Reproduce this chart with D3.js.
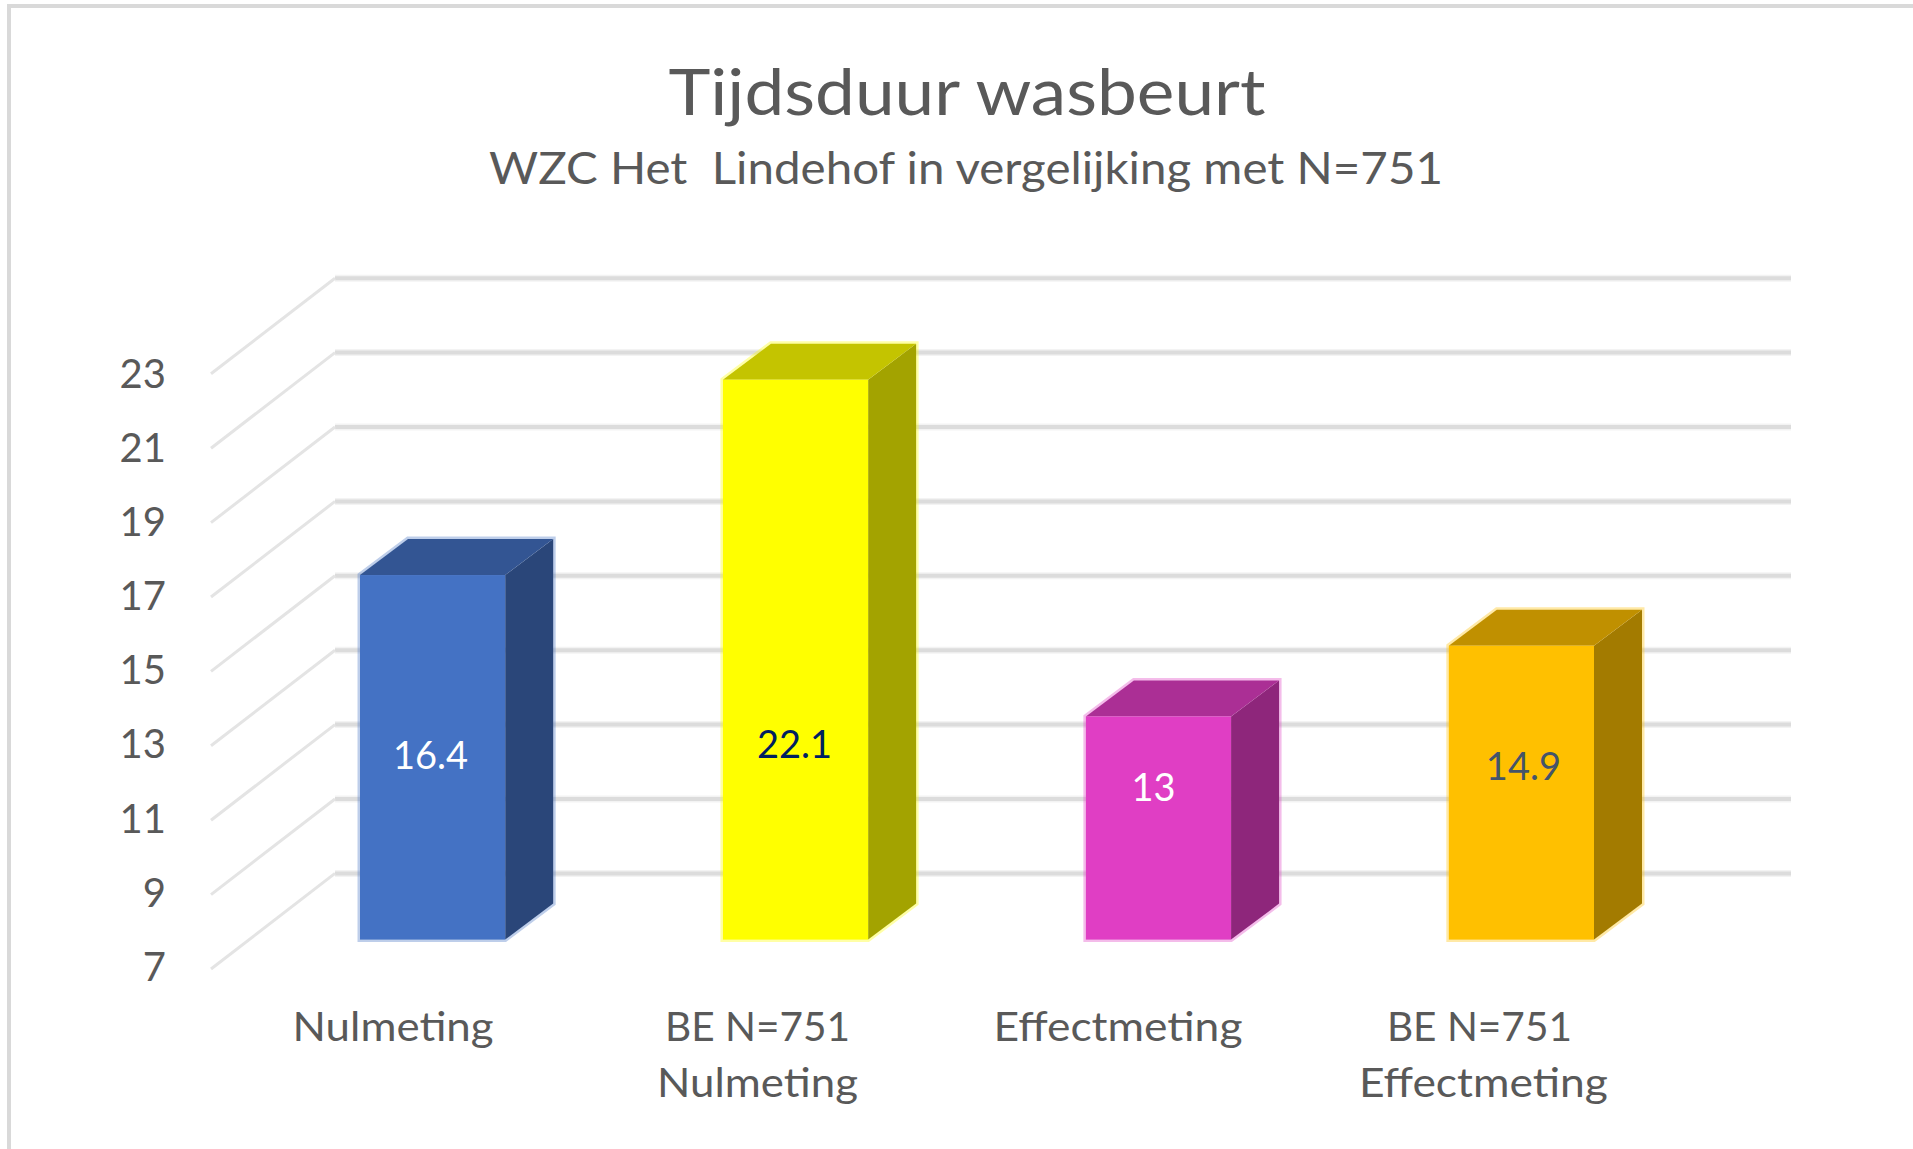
<!DOCTYPE html>
<html><head><meta charset="utf-8">
<script src="https://cdn.jsdelivr.net/npm/d3@7"></script>
<style>html,body{margin:0;padding:0;background:#fff;overflow:hidden}svg{display:block}text{font-family:Lato,"Open Sans",sans-serif}</style>
</head><body><div id="chart"></div>
<script>
const title = "Tijdsduur wasbeurt";
const subtitle = "WZC Het  Lindehof in vergelijking met N=751";
const categories = ["Nulmeting", "BE N=751 Nulmeting", "Effectmeting", "BE N=751 Effectmeting"];
const categoryLines = [["Nulmeting"], ["BE N=751", "Nulmeting"], ["Effectmeting"], ["BE N=751", "Effectmeting"]];
// Bar heights; the printed labels are kept separately (first bar is drawn a little above its label).
const barHeights = [16.8, 22.05, 13, 14.9];
const valueLabels = ["16.4", "22.1", "13", "14.9"];
const labelLevels = [11.95, 12.26, 11.09, 11.65];
const yTicks = [7, 9, 11, 13, 15, 17, 19, 21, 23];
const frontColors = ["#4472c4", "#ffff00", "#e03ec4", "#ffc000"];
const sideColors = ["#2a4679", "#a3a300", "#8e267b", "#a37b00"];
const topColors = ["#335593", "#c4c400", "#ab2f95", "#c09000"];
const labelColors = ["#ffffff", "#002060", "#ffffff", "#44546a"];
const labelNudgeX = [-2, -1, -5, 2];
const lineWidths = { "Nulmeting": 201, "BE N=751": 185, "Effectmeting": 249 };
const lineNudges = [[-1.5], [0, 0], [-2.5], [-4, 0]];

const W = 1913, H = 1149, depthX = 48, depthY = 36, wallX = 124, wallY = 95.6;
const svg = d3.select("#chart").append("svg").attr("width", W).attr("height", H);
svg.append("rect").attr("x", 9).attr("y", 6).attr("width", W + 20).attr("height", H + 20)
  .attr("fill", "#fff").attr("stroke", "#d9d9d9").attr("stroke-width", 4);

const x = d3.scaleBand().domain(categories).range([360, 1594]).paddingInner(0.6).paddingOuter(0);
const yBar = d3.scaleLinear().domain([7, 23]).range([939.6, 344.4]);
const yWall = d3.scaleLinear().domain([7, 23]).range([873.4, 278.2]);
const yTick = d3.scaleLinear().domain([7, 23]).range([967.5, 374.5]);

const grid = svg.append("g");
grid.selectAll("line.halo").data(yTicks).join("line").attr("class", "halo")
  .attr("x1", 335).attr("x2", 1791).attr("y1", yWall).attr("y2", yWall)
  .attr("stroke", "#f3f3f3").attr("stroke-width", 7);
grid.selectAll("line.h").data(yTicks).join("line").attr("class", "h")
  .attr("x1", 335).attr("x2", 1791).attr("y1", yWall).attr("y2", yWall)
  .attr("stroke", "#dcdcdc").attr("stroke-width", 4);
grid.selectAll("line.d").data(yTicks).join("line").attr("class", "d")
  .attr("x1", 335 - wallX).attr("x2", 335).attr("y1", d => yWall(d) + wallY).attr("y2", yWall)
  .attr("stroke", "#e4e4e4").attr("stroke-width", 3);

const axis = d3.axisLeft(yTick).tickValues(yTicks).tickSize(0).tickPadding(0);
const gAxis = svg.append("g").attr("transform", "translate(166,0)").call(axis);
gAxis.select(".domain").remove();
gAxis.selectAll("text").attr("fill", "#595959").style("font-size", "40px").style("font-family", "Lato");

const pts = a => a.map(p => p.join(",")).join(" ");
const bars = svg.selectAll("g.bar").data(categories).join("g").attr("class", "bar");
bars.each(function (c, i) {
  const g = d3.select(this), x0 = x(c), x1 = x0 + x.bandwidth(), t = yBar(barHeights[i]), b = yBar(7);
  g.append("polygon").attr("points", pts([[x0, b], [x0, t], [x0 + depthX, t - depthY], [x1 + depthX, t - depthY], [x1 + depthX, b - depthY], [x1, b]]))
    .attr("fill", "none").attr("stroke", frontColors[i]).attr("stroke-opacity", 0.35).attr("stroke-width", 5);
  g.append("polygon").attr("points", pts([[x1, b], [x1 + depthX, b - depthY], [x1 + depthX, t - depthY], [x1, t]])).attr("fill", sideColors[i]);
  g.append("polygon").attr("points", pts([[x0, t], [x0 + depthX, t - depthY], [x1 + depthX, t - depthY], [x1, t]])).attr("fill", topColors[i]);
  g.append("rect").attr("x", x0).attr("y", t).attr("width", x.bandwidth()).attr("height", b - t).attr("fill", frontColors[i]);
  g.append("text").attr("x", x0 + x.bandwidth() / 2 + labelNudgeX[i]).attr("y", yBar(labelLevels[i]))
    .attr("dy", "0.36em").attr("text-anchor", "middle").attr("fill", labelColors[i]).style("font-size", "38px").text(valueLabels[i]);
});

categories.forEach((c, i) => {
  svg.selectAll("text.cat" + i).data(categoryLines[i]).join("text").attr("class", "cat" + i)
    .attr("text-anchor", "middle").attr("fill", "#595959").style("font-size", "40px")
    .attr("x", (d, j) => x(c) + x.bandwidth() / 2 - 38 + lineNudges[i][j])
    .attr("y", (d, j) => 1041 + j * 55.5)
    .attr("textLength", d => lineWidths[d]).attr("lengthAdjust", "spacingAndGlyphs")
    .text(d => d);
});

svg.append("text").attr("x", 967).attr("y", 115).attr("text-anchor", "middle").attr("fill", "#595959")
  .attr("textLength", 597).attr("lengthAdjust", "spacingAndGlyphs")
  .style("font-size", "64px").text(title);
svg.append("text").attr("x", 966).attr("y", 184).attr("text-anchor", "middle").attr("fill", "#595959")
  .attr("textLength", 954).attr("lengthAdjust", "spacingAndGlyphs")
  .style("font-size", "44px").style("white-space", "pre").text(subtitle);
</script></body></html>
